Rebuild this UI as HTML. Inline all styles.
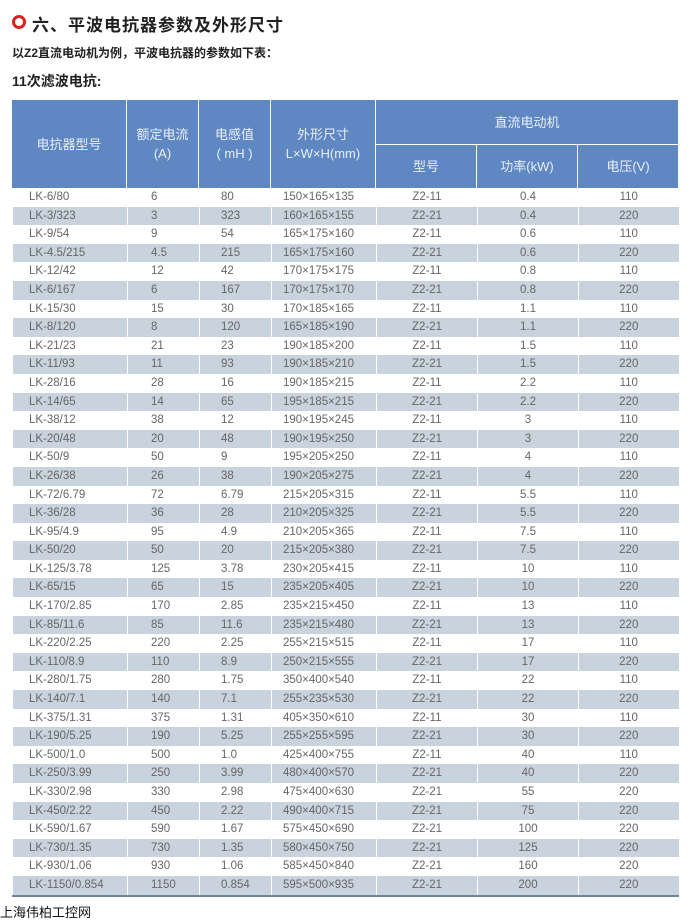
<!DOCTYPE html>
<html><head><meta charset="utf-8"><style>
body{margin:0;width:690px;height:923px;background:#fff;position:relative;font-family:"Liberation Sans","Noto Sans CJK SC",sans-serif;overflow:hidden}
.t1{position:absolute;left:32px;top:11px;font-size:17px;font-weight:bold;color:#222;letter-spacing:1px}
.dot{position:absolute;left:12px;top:15px;width:8px;height:8px;border:3px solid #e02020;border-radius:50%}
.t2{position:absolute;left:12px;top:44px;font-size:12px;font-weight:bold;color:#222}
.t3{position:absolute;left:12px;top:71px;font-size:14px;font-weight:bold;color:#222}
.hd{position:absolute;background:#5f88c2;color:#e8eef8;font-size:13px;text-align:center;display:flex;align-items:center;justify-content:center;flex-direction:column;line-height:19px}
table{position:absolute;left:12px;top:188px;border-collapse:collapse;table-layout:fixed;width:666px;border-bottom:2px solid #6f849c}
td{height:18.6px;padding:0;font-size:11.5px;color:#666;white-space:nowrap;border-left:1px solid #fff;line-height:18.6px}
tr:nth-child(even) td{background:#c9d3dd}
td:nth-child(1){padding-left:16px}
td:nth-child(2){padding-left:23px}
td:nth-child(3){padding-left:21px}
td:nth-child(4){padding-left:11px}
td:nth-child(5),td:nth-child(6),td:nth-child(7){text-align:center}
.ft{position:absolute;left:0;top:902px;font-size:13px;color:#111}
</style></head><body>
<div class="dot"></div>
<div class="t1">六、平波电抗器参数及外形尺寸</div>
<div class="t2">以Z2直流电动机为例，平波电抗器的参数如下表：</div>
<div class="t3">11次滤波电抗:</div>
<div class="hd" style="left:12px;top:100px;width:114px;height:88px">电抗器型号</div>
<div class="hd" style="left:127px;top:100px;width:71px;height:88px">额定电流<br>(A)</div>
<div class="hd" style="left:199px;top:100px;width:71px;height:88px">电感值<br>( mH )</div>
<div class="hd" style="left:271px;top:100px;width:104px;height:88px">外形尺寸<br>L×W×H(mm)</div>
<div class="hd" style="left:376px;top:100px;width:302px;height:44px">直流电动机</div>
<div class="hd" style="left:376px;top:145px;width:100px;height:43px">型号</div>
<div class="hd" style="left:477px;top:145px;width:100px;height:43px">功率(kW)</div>
<div class="hd" style="left:578px;top:145px;width:100px;height:43px">电压(V)</div>
<table>
<colgroup><col style="width:115px"><col style="width:72px"><col style="width:72px"><col style="width:105px"><col style="width:101px"><col style="width:101px"><col style="width:100px"></colgroup>
<tr><td>LK-6/80</td><td>6</td><td>80</td><td>150×165×135</td><td>Z2-11</td><td>0.4</td><td>110</td></tr>
<tr><td>LK-3/323</td><td>3</td><td>323</td><td>160×165×155</td><td>Z2-21</td><td>0.4</td><td>220</td></tr>
<tr><td>LK-9/54</td><td>9</td><td>54</td><td>165×175×160</td><td>Z2-11</td><td>0.6</td><td>110</td></tr>
<tr><td>LK-4.5/215</td><td>4.5</td><td>215</td><td>165×175×160</td><td>Z2-21</td><td>0.6</td><td>220</td></tr>
<tr><td>LK-12/42</td><td>12</td><td>42</td><td>170×175×175</td><td>Z2-11</td><td>0.8</td><td>110</td></tr>
<tr><td>LK-6/167</td><td>6</td><td>167</td><td>170×175×170</td><td>Z2-21</td><td>0.8</td><td>220</td></tr>
<tr><td>LK-15/30</td><td>15</td><td>30</td><td>170×185×165</td><td>Z2-11</td><td>1.1</td><td>110</td></tr>
<tr><td>LK-8/120</td><td>8</td><td>120</td><td>165×185×190</td><td>Z2-21</td><td>1.1</td><td>220</td></tr>
<tr><td>LK-21/23</td><td>21</td><td>23</td><td>190×185×200</td><td>Z2-11</td><td>1.5</td><td>110</td></tr>
<tr><td>LK-11/93</td><td>11</td><td>93</td><td>190×185×210</td><td>Z2-21</td><td>1.5</td><td>220</td></tr>
<tr><td>LK-28/16</td><td>28</td><td>16</td><td>190×185×215</td><td>Z2-11</td><td>2.2</td><td>110</td></tr>
<tr><td>LK-14/65</td><td>14</td><td>65</td><td>195×185×215</td><td>Z2-21</td><td>2.2</td><td>220</td></tr>
<tr><td>LK-38/12</td><td>38</td><td>12</td><td>190×195×245</td><td>Z2-11</td><td>3</td><td>110</td></tr>
<tr><td>LK-20/48</td><td>20</td><td>48</td><td>190×195×250</td><td>Z2-21</td><td>3</td><td>220</td></tr>
<tr><td>LK-50/9</td><td>50</td><td>9</td><td>195×205×250</td><td>Z2-11</td><td>4</td><td>110</td></tr>
<tr><td>LK-26/38</td><td>26</td><td>38</td><td>190×205×275</td><td>Z2-21</td><td>4</td><td>220</td></tr>
<tr><td>LK-72/6.79</td><td>72</td><td>6.79</td><td>215×205×315</td><td>Z2-11</td><td>5.5</td><td>110</td></tr>
<tr><td>LK-36/28</td><td>36</td><td>28</td><td>210×205×325</td><td>Z2-21</td><td>5.5</td><td>220</td></tr>
<tr><td>LK-95/4.9</td><td>95</td><td>4.9</td><td>210×205×365</td><td>Z2-11</td><td>7.5</td><td>110</td></tr>
<tr><td>LK-50/20</td><td>50</td><td>20</td><td>215×205×380</td><td>Z2-21</td><td>7.5</td><td>220</td></tr>
<tr><td>LK-125/3.78</td><td>125</td><td>3.78</td><td>230×205×415</td><td>Z2-11</td><td>10</td><td>110</td></tr>
<tr><td>LK-65/15</td><td>65</td><td>15</td><td>235×205×405</td><td>Z2-21</td><td>10</td><td>220</td></tr>
<tr><td>LK-170/2.85</td><td>170</td><td>2.85</td><td>235×215×450</td><td>Z2-11</td><td>13</td><td>110</td></tr>
<tr><td>LK-85/11.6</td><td>85</td><td>11.6</td><td>235×215×480</td><td>Z2-21</td><td>13</td><td>220</td></tr>
<tr><td>LK-220/2.25</td><td>220</td><td>2.25</td><td>255×215×515</td><td>Z2-11</td><td>17</td><td>110</td></tr>
<tr><td>LK-110/8.9</td><td>110</td><td>8.9</td><td>250×215×555</td><td>Z2-21</td><td>17</td><td>220</td></tr>
<tr><td>LK-280/1.75</td><td>280</td><td>1.75</td><td>350×400×540</td><td>Z2-11</td><td>22</td><td>110</td></tr>
<tr><td>LK-140/7.1</td><td>140</td><td>7.1</td><td>255×235×530</td><td>Z2-21</td><td>22</td><td>220</td></tr>
<tr><td>LK-375/1.31</td><td>375</td><td>1.31</td><td>405×350×610</td><td>Z2-11</td><td>30</td><td>110</td></tr>
<tr><td>LK-190/5.25</td><td>190</td><td>5.25</td><td>255×255×595</td><td>Z2-21</td><td>30</td><td>220</td></tr>
<tr><td>LK-500/1.0</td><td>500</td><td>1.0</td><td>425×400×755</td><td>Z2-11</td><td>40</td><td>110</td></tr>
<tr><td>LK-250/3.99</td><td>250</td><td>3.99</td><td>480×400×570</td><td>Z2-21</td><td>40</td><td>220</td></tr>
<tr><td>LK-330/2.98</td><td>330</td><td>2.98</td><td>475×400×630</td><td>Z2-21</td><td>55</td><td>220</td></tr>
<tr><td>LK-450/2.22</td><td>450</td><td>2.22</td><td>490×400×715</td><td>Z2-21</td><td>75</td><td>220</td></tr>
<tr><td>LK-590/1.67</td><td>590</td><td>1.67</td><td>575×450×690</td><td>Z2-21</td><td>100</td><td>220</td></tr>
<tr><td>LK-730/1.35</td><td>730</td><td>1.35</td><td>580×450×750</td><td>Z2-21</td><td>125</td><td>220</td></tr>
<tr><td>LK-930/1.06</td><td>930</td><td>1.06</td><td>585×450×840</td><td>Z2-21</td><td>160</td><td>220</td></tr>
<tr><td>LK-1150/0.854</td><td>1150</td><td>0.854</td><td>595×500×935</td><td>Z2-21</td><td>200</td><td>220</td></tr>
</table>
<div class="ft">上海伟柏工控网</div>
</body></html>
